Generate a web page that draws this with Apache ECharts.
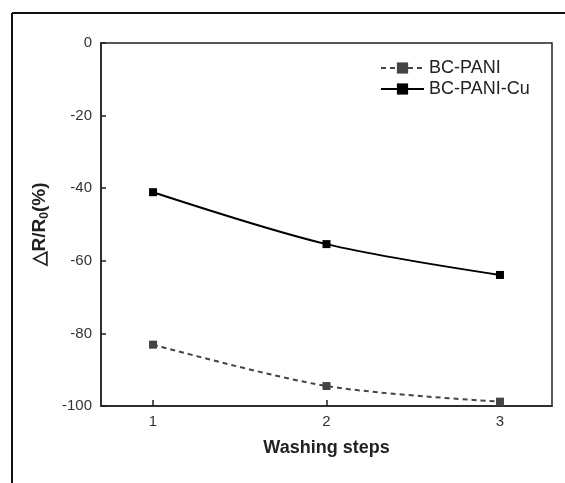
<!DOCTYPE html>
<html>
<head>
    <meta charset="utf-8">
    <title>Washing steps</title>
    <script src="https://cdn.jsdelivr.net/npm/echarts@6/dist/echarts.min.js"></script>
    <style>
        html,body{
            height:100%;
            width:100%;
            margin:0;
            padding:0;
            background:#fff;
        }
        #chart{
            width:565px;
            height:483px;
        }
    </style>
</head>
<body>
<div id="chart"></div>
<script>
    // washing steps (x)
    var steps = [1, 2, 3];
    var xTicks = [1, 2, 3];
    // delta R / R0 (%)
    var pani = [-83.1, -94.5, -98.8];
    var paniCu = [-41.1, -55.4, -63.9];
    var seriesNames = ['BC-PANI', 'BC-PANI-Cu'];

    function pairs(ys) {
        return steps.map(function (x, i) { return [x, ys[i]]; });
    }

    var chart = echarts.init(document.getElementById('chart'));
    var font = 'Liberation Sans, Arial, sans-serif';

    var option = {
        animation: false,
        textStyle: { fontFamily: font },
        grid: {
            left: 101, right: 13, top: 43, bottom: 77,
            show: true,
            borderColor: '#222',
            borderWidth: 1.5
        },
        legend: {
            data: seriesNames,
            orient: 'vertical',
            left: 375,
            top: 54,
            itemWidth: 43,
            itemHeight: 14,
            itemGap: 3,
            itemTextGap: 5,
            textStyle: { fontSize: 18, color: '#222', fontFamily: font }
        },
        xAxis: {
            type: 'value',
            min: 0.7,
            max: 3.3,
            name: 'Washing steps',
            nameLocation: 'middle',
            nameGap: 33,
            nameTextStyle: { fontSize: 18, fontWeight: 'bold', color: '#222' },
            axisLine: { show: true, onZero: false, lineStyle: { color: '#222', width: 1.5 } },
            axisTick: { show: true, inside: true, length: 6, customValues: xTicks, lineStyle: { color: '#222', width: 1.5 } },
            axisLabel: { customValues: xTicks, fontSize: 15, color: '#333', margin: 8 },
            splitLine: { show: false }
        },
        yAxis: {
            type: 'value',
            min: -100,
            max: 0,
            interval: 20,
            name: '△R/R{sub|0}(%)',
            nameLocation: 'middle',
            nameRotate: 90,
            nameGap: 48,
            nameTextStyle: {
                fontSize: 19, fontWeight: 'bold', color: '#222',
                rich: {
                    sub: { fontSize: 12, fontWeight: 'bold', color: '#222', verticalAlign: 'bottom', padding: [10, 0, 0, 0] }
                }
            },
            axisLine: { show: true, onZero: false, lineStyle: { color: '#222', width: 1.5 } },
            axisTick: { show: true, inside: true, length: 5, lineStyle: { color: '#222', width: 1.5 } },
            axisLabel: { fontSize: 15, color: '#333', margin: 9 },
            splitLine: { show: false }
        },
        graphic: [
            { type: 'line', shape: { x1: 12, y1: 13, x2: 565, y2: 13 }, style: { stroke: '#111', lineWidth: 2 } },
            { type: 'line', shape: { x1: 12, y1: 13, x2: 12, y2: 483 }, style: { stroke: '#111', lineWidth: 2 } }
        ],
        series: [
            {
                name: seriesNames[0],
                type: 'line',
                data: pairs(pani),
                smooth: 0.3,
                symbol: 'rect',
                symbolSize: 8,
                itemStyle: { color: '#444' },
                lineStyle: { color: '#444', width: 2, type: [5, 4] }
            },
            {
                name: seriesNames[1],
                type: 'line',
                data: pairs(paniCu),
                smooth: 0.3,
                symbol: 'rect',
                symbolSize: 8,
                itemStyle: { color: '#000' },
                lineStyle: { color: '#000', width: 2 }
            }
        ]
    };
    chart.setOption(option);
</script>
</body>
</html>
